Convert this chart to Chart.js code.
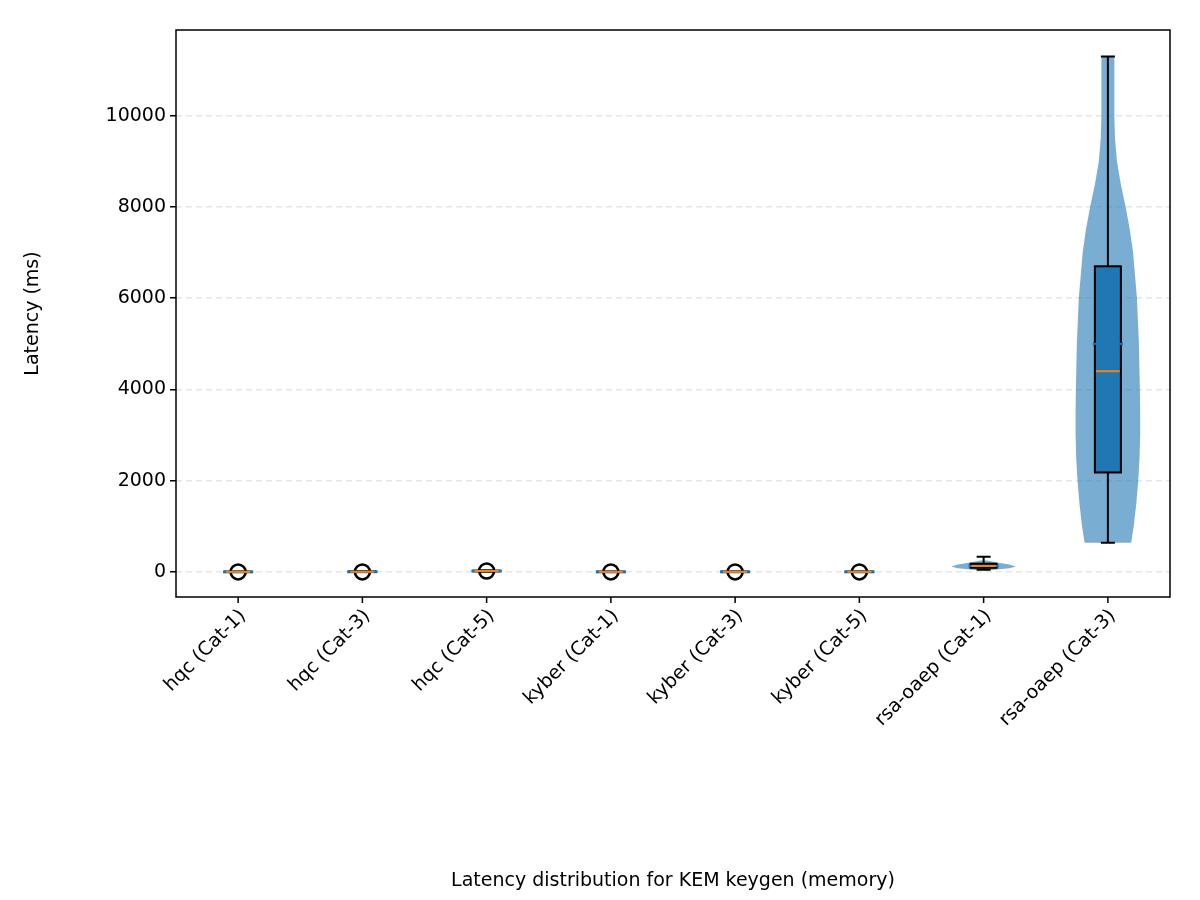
<!DOCTYPE html>
<html>
<head>
<meta charset="utf-8">
<script src="https://cdn.jsdelivr.net/npm/chart.js@4.4.0/dist/chart.umd.min.js"></script>
<style>
  html, body { margin: 0; background: #fff; }
  #wrap { width: 1200px; height: 900px; }
</style>
</head>
<body>
<div id="wrap"><canvas id="chart"></canvas></div>
<script>
const categories = ['hqc (Cat-1)', 'hqc (Cat-3)', 'hqc (Cat-5)', 'kyber (Cat-1)',
  'kyber (Cat-3)', 'kyber (Cat-5)', 'rsa-oaep (Cat-1)', 'rsa-oaep (Cat-3)']

// box stats: whisker low, q1, median, q3, whisker high, mean
const whiskLo = [0, 1, 10, 0, 0, 0, 50, 640]
const q1 = [0, 2, 15, 1, 1, 1, 90, 2180]
const median = [1, 3, 20, 1, 2, 2, 130, 4400]
const q3 = [2, 5, 25, 2, 3, 3, 180, 6700]
const whiskHi = [3, 7, 30, 3, 4, 4, 330, 11300]
const means = [1, 4, 20, 1, 2, 2, 130, 5000]
const fliers = [[0], [0], [20], [0], [0], [0], [], []]

// violin profiles: sampled values and relative half-widths
const violinY = [
  [], [], [], [], [], [],
  [40, 80, 120, 160, 200, 250],
  [640, 1000, 1500, 2000, 2500, 3000, 3500, 4000, 5000, 6000, 7000, 7500, 8000, 8500, 9000, 9500, 10000, 10500, 11000, 11300]
]
const violinW = [
  [], [], [], [], [], [],
  [0.25, 0.8, 1.0, 0.8, 0.45, 0.1],
  [0.72, 0.8, 0.88, 0.94, 0.98, 1.0, 1.0, 0.99, 0.96, 0.9, 0.78, 0.68, 0.55, 0.4, 0.28, 0.22, 0.2, 0.2, 0.2, 0.2]
]
const yTicks = [0, 2000, 4000, 6000, 8000, 10000]
const xTitle = 'Latency distribution for KEM keygen (memory)'

const violinPlugin = {
  id: 'violins',
  afterDatasetsDraw(chart) {
    const { ctx, chartArea, scales: { x, y } } = chart
    const cw = x.getPixelForValue(1) - x.getPixelForValue(0)
    ctx.save()
    ctx.beginPath()
    ctx.rect(chartArea.left, chartArea.top, chartArea.right - chartArea.left, chartArea.bottom - chartArea.top)
    ctx.clip()
    categories.forEach((c, i) => {
      const cx = x.getPixelForValue(i)
      const vy = violinY[i], vw = violinW[i]
      const maxHalf = cw * 0.26
      if (vy.length) {
        ctx.beginPath()
        vy.forEach((v, k) => {
          const px = cx + vw[k] * maxHalf, py = y.getPixelForValue(v)
          k ? ctx.lineTo(px, py) : ctx.moveTo(px, py)
        })
        for (let k = vy.length - 1; k >= 0; k--) ctx.lineTo(cx - vw[k] * maxHalf, y.getPixelForValue(vy[k]))
        ctx.closePath()
        ctx.fillStyle = 'rgba(31,119,180,0.6)'
        ctx.fill()
      }
      ctx.strokeStyle = '#1f77b4'
      ctx.lineWidth = 3
      ctx.beginPath()
      ctx.moveTo(cx - 15, y.getPixelForValue(means[i]))
      ctx.lineTo(cx + 15, y.getPixelForValue(means[i]))
      ctx.stroke()
      // whiskers
      const bh = 13
      ctx.strokeStyle = '#000'
      ctx.lineWidth = 2
      ctx.beginPath()
      ctx.moveTo(cx, y.getPixelForValue(whiskLo[i])); ctx.lineTo(cx, y.getPixelForValue(q1[i]))
      ctx.moveTo(cx, y.getPixelForValue(q3[i])); ctx.lineTo(cx, y.getPixelForValue(whiskHi[i]))
      ctx.moveTo(cx - 7, y.getPixelForValue(whiskLo[i])); ctx.lineTo(cx + 7, y.getPixelForValue(whiskLo[i]))
      ctx.moveTo(cx - 7, y.getPixelForValue(whiskHi[i])); ctx.lineTo(cx + 7, y.getPixelForValue(whiskHi[i]))
      ctx.stroke()
      const top = y.getPixelForValue(q3[i]), bot = y.getPixelForValue(q1[i])
      ctx.fillStyle = '#1f77b4'
      ctx.fillRect(cx - bh, top, bh * 2, bot - top)
      ctx.strokeRect(cx - bh, top, bh * 2, bot - top)
      fliers[i].forEach(v => {
        ctx.beginPath()
        ctx.arc(cx, y.getPixelForValue(v), 7.5, 0, Math.PI * 2)
        ctx.lineWidth = 2.5
        ctx.stroke()
      })
      ctx.lineWidth = 2
      ctx.strokeStyle = '#1f77b4'
      ctx.beginPath()
      ctx.moveTo(cx - 15, y.getPixelForValue(means[i])); ctx.lineTo(cx + 15, y.getPixelForValue(means[i]))
      ctx.stroke()
      ctx.strokeStyle = '#ff7f0e'
      ctx.beginPath()
      ctx.moveTo(cx - bh + 1, y.getPixelForValue(median[i])); ctx.lineTo(cx + bh - 1, y.getPixelForValue(median[i]))
      ctx.stroke()
    })
    ctx.restore()
    ctx.save()
    ctx.strokeStyle = '#000'
    ctx.lineWidth = 1.5
    ctx.strokeRect(chartArea.left, chartArea.top, chartArea.right - chartArea.left, chartArea.bottom - chartArea.top)
    // rotated category labels, ending at the tick
    ctx.fillStyle = '#000'
    ctx.font = '19px "DejaVu Sans"'
    ctx.lineWidth = 1.5
    categories.forEach((c, i) => {
      const cx = x.getPixelForValue(i)
      ctx.beginPath()
      ctx.moveTo(cx, chartArea.bottom); ctx.lineTo(cx, chartArea.bottom + 6)
      ctx.stroke()
      ctx.save()
      ctx.translate(cx + 5, chartArea.bottom + 16)
      ctx.rotate(-Math.PI / 4)
      ctx.textAlign = 'right'
      ctx.textBaseline = 'middle'
      ctx.fillText(c, 0, 0)
      ctx.restore()
    })
    ctx.textAlign = 'center'
    ctx.textBaseline = 'middle'
    ctx.fillText(xTitle, (chartArea.left + chartArea.right) / 2, 881)
    ctx.restore()
  }
}

Chart.defaults.font.family = 'DejaVu Sans'
Chart.defaults.color = '#000'

new Chart(document.getElementById('chart'), {
  type: 'bar',
  data: { labels: categories, datasets: [{ data: median, backgroundColor: 'rgba(0,0,0,0)' }] },
  options: {
    responsive: true,
    maintainAspectRatio: false,
    animation: false,
    events: [],
    layout: { padding: { top: 30, right: 30, left: 18, bottom: 0 } },
    plugins: { legend: { display: false }, tooltip: { enabled: false } },
    scales: {
      x: {
        offset: true,
        grid: { display: false },
        border: { display: false },
        ticks: { callback: () => '' },
        afterFit: axis => { axis.height = 303 }
      },
      y: {
        min: -550,
        max: 11880,
        afterBuildTicks: axis => { axis.ticks = yTicks.map(v => ({ value: v })) },
        afterFit: axis => { axis.width = 158 },
        grid: { color: '#e6e6e6', lineWidth: 1.5, tickColor: '#000', tickLength: 6, drawTicks: true },
        border: { display: false, dash: [6, 4] },
        ticks: { font: { size: 19 }, padding: 4, callback: v => String(v) },
        title: { display: true, text: 'Latency (ms)', font: { size: 19 }, padding: { bottom: 0 } }
      }
    }
  },
  plugins: [violinPlugin]
})
</script>
</body>
</html>
